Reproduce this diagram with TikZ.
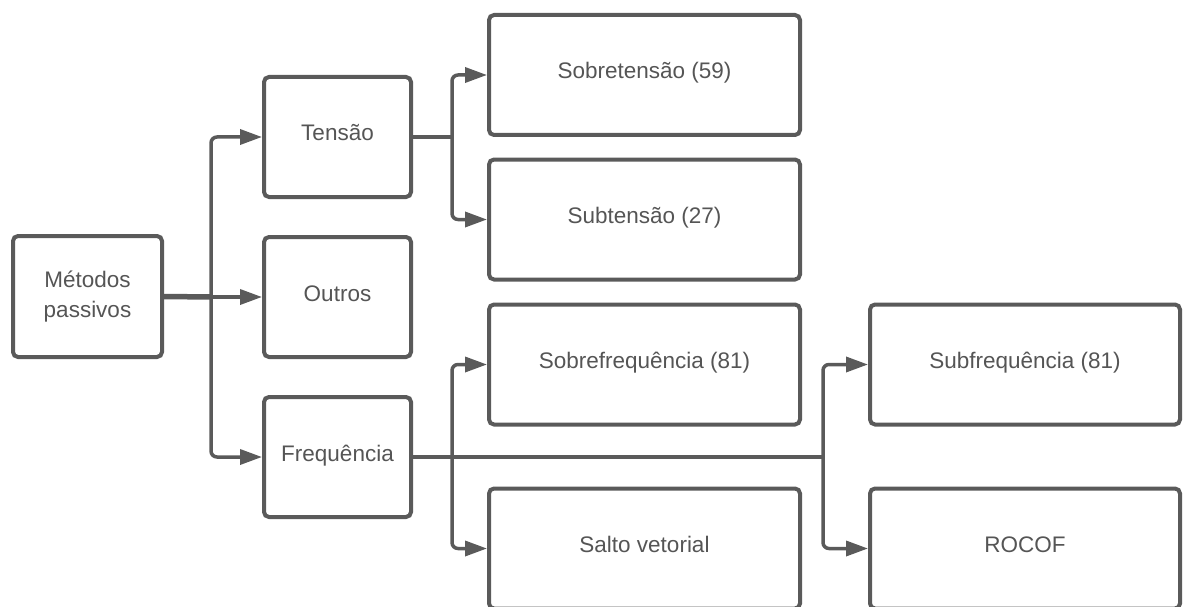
\documentclass[tikz,border=0pt]{standalone}
\usepackage{fontspec}
\setmainfont{Liberation Sans}
\usetikzlibrary{arrows.meta}
\definecolor{ln}{RGB}{90,90,90}
\definecolor{tx}{RGB}{85,85,85}
\tikzset{
  box/.style={draw=ln, line width=4pt, rounded corners=5pt, fill=white,
    text=tx, align=center, inner sep=0pt,
    font=\fontsize{22.5}{30}\selectfont},
  oneline/.style={box, text height=16pt, text depth=8pt},
  smallbox/.style={oneline, minimum width=147pt, minimum height=120pt},
  bigbox/.style={oneline, minimum width=311pt, minimum height=120pt},
  conn/.style={draw=ln, line width=3.5pt, rounded corners=6pt,
    -{Triangle[length=22pt,width=15pt]}},
  plain/.style={draw=ln, line width=3.5pt, rounded corners=6pt},
}
\begin{document}
\begin{tikzpicture}[x=1pt,y=-1pt]
\useasboundingbox (0,0) rectangle (1183,607);
\clip (0,0) rectangle (1183,607);
\node[box, minimum width=149pt, minimum height=121pt] (mp) at (87.5,296.5) {Métodos\\passivos};
\node[smallbox] (tensao) at (337.5,137) {Tensão};
\node[smallbox] (outros) at (337.5,297) {Outros};
\node[smallbox] (freq) at (337.5,457) {Frequência};
\node[bigbox] (sobret) at (644.5,75) {Sobretensão (59)};
\node[bigbox] (subt) at (644.5,219.5) {Subtensão (27)};
\node[bigbox] (sobref) at (644.5,364.5) {Sobrefrequência (81)};
\node[bigbox] (salto) at (644.5,548.5) {Salto vetorial};
\node[bigbox, minimum width=310pt] (subf) at (1025,364.5) {Subfrequência (81)};
\node[bigbox, minimum width=310pt] (rocof) at (1025,548.5) {ROCOF};
\coordinate (J1) at (211,297);
\coordinate (T) at (452,137);
\coordinate (F1) at (452,457);
\coordinate (F2) at (823,457);
% main
\draw[draw=ln, line width=5.5pt] (mp.east) -- (J1);
\draw[conn] (J1) |- (tensao.west);
\draw[conn] (J1) -- (outros.west);
\draw[conn] (J1) |- (freq.west);
% tensao
\draw[plain] (tensao.east) -- (T);
\draw[conn] (T) |- (sobret.west);
\draw[conn] (T) |- (subt.west);
% frequencia
\draw[plain] (freq.east) -- (F2);
\draw[conn] (F1) |- (sobref.west);
\draw[conn] (F1) |- (salto.west);
\draw[conn] (F2) |- (subf.west);
\draw[conn] (F2) |- (rocof.west);
\end{tikzpicture}
\end{document}
